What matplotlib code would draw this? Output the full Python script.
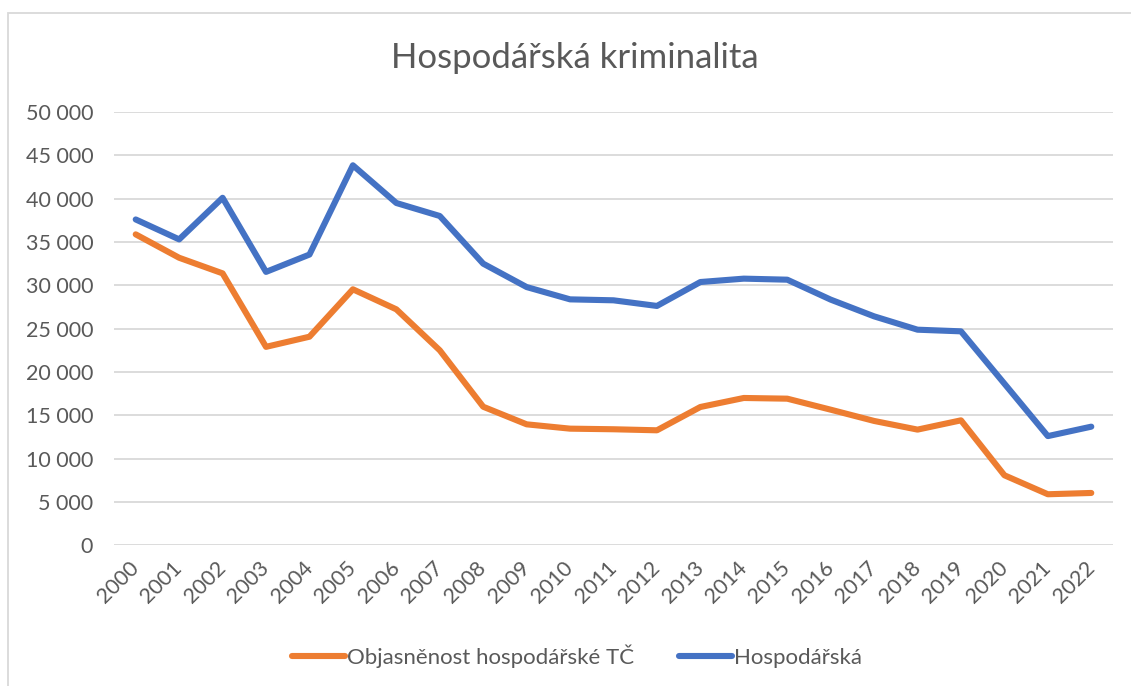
import matplotlib
matplotlib.use("Agg")
import matplotlib.pyplot as plt
from matplotlib.patches import Rectangle
from matplotlib.ticker import FuncFormatter

years = [str(y) for y in range(2000, 2023)]
hospodarska = [37600, 35300, 40100, 31550, 33550, 43850, 39500, 38000, 32500, 29800,
               28380, 28270, 27620, 30380, 30770, 30650, 28350, 26420, 24880, 24690,
               18650, 12600, 13690]
objasnenost = [35880, 33180, 31380, 22900, 24070, 29540, 27230, 22500, 15990, 13960,
               13460, 13390, 13270, 15960, 17000, 16920, 15650, 14350, 13350, 14420,
               8080, 5890, 6040]
y_ticks = list(range(0, 50001, 5000))

plt.rcParams['font.family'] = ['Lato', 'DejaVu Sans']
text_color = '#595959'

W, H = 1131, 686
fig = plt.figure(figsize=(W / 100, H / 100), dpi=100)
fig.patch.set_facecolor('white')

# chart frame
fig.patches.append(Rectangle((8 / W, -0.1), 1.2, (H - 13) / H + 0.1,
                             transform=fig.transFigure, fill=False,
                             edgecolor='#D9D9D9', linewidth=1.3))

left, right = 114 / W, 1113 / W
bottom, top = 1 - 545.3 / H, 1 - 112 / H
ax = fig.add_axes([left, bottom, right - left, top - bottom])

x = list(range(len(years)))
l1, = ax.plot(x, objasnenost, color='#ED7D31', linewidth=4.4,
              solid_capstyle='round', solid_joinstyle='round',
              label='Objasněnost hospodářské TČ')
l2, = ax.plot(x, hospodarska, color='#4472C4', linewidth=4.4,
              solid_capstyle='round', solid_joinstyle='round',
              label='Hospodářská')

ax.set_xlim(-0.5, len(years) - 0.5)
ax.set_ylim(0, 50000)
ax.set_yticks(y_ticks)
ax.yaxis.set_major_formatter(FuncFormatter(lambda v, p: f"{int(v):,}".replace(',', ' ')))
ax.set_xticks(x)
ax.set_xticklabels(years, rotation=45, ha='right', va='center',
                   rotation_mode='anchor')
ax.grid(axis='y', color='#D9D9D9', linewidth=1.3)
ax.set_axisbelow(True)
for s in ax.spines.values():
    s.set_visible(False)
ax.tick_params(axis='both', length=0, colors=text_color, labelsize=15.5)
ax.tick_params(axis='y', pad=15)
ax.tick_params(axis='x', pad=14)

fig.text(575 / W, 1 - 58 / H, 'Hospodářská kriminalita', ha='center', va='center',
         fontsize=25, color=text_color)

leg = fig.legend(handles=[l1, l2], loc='center', bbox_to_anchor=(577 / W, 1 - 656 / H),
                 ncol=2, frameon=False, fontsize=16, handlelength=2.4,
                 handletextpad=0.1, columnspacing=2.0)
for t in leg.get_texts():
    t.set_color(text_color)

fig.savefig('out.png', dpi=100, facecolor='white')
